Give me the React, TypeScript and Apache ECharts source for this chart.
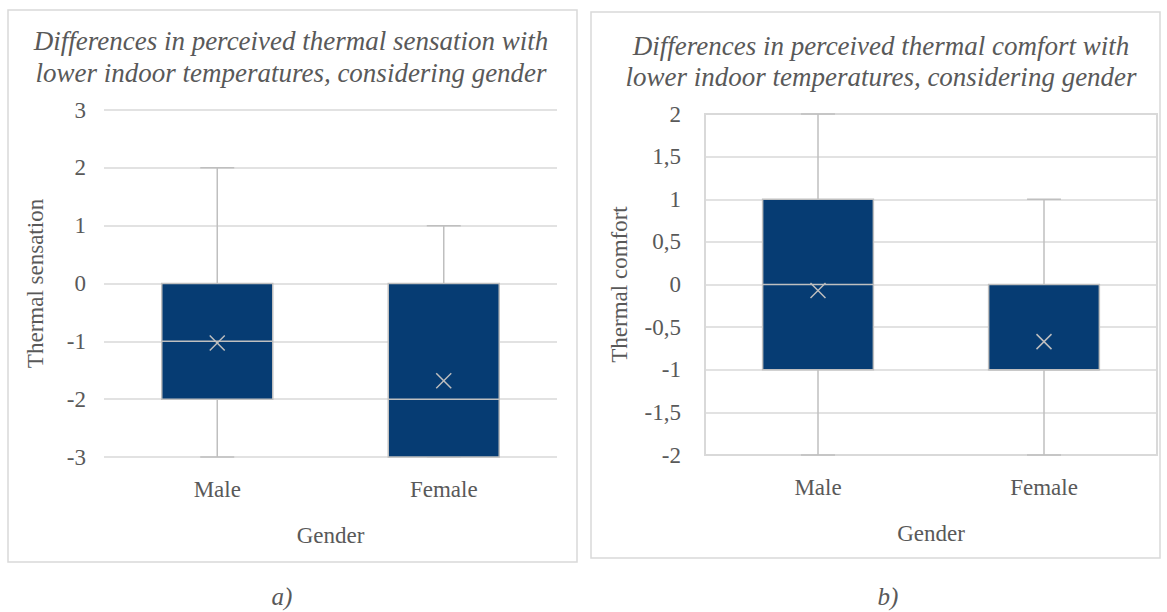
import React, { useEffect, useRef } from "react";
import * as echarts from "echarts";

// Box-plot statistics per gender
const categories = ["Male", "Female"];

// Thermal sensation (scale -3 … 3)
const sensationMin = [-3, -3];
const sensationQ1 = [-2, -3];
const sensationMedian = [-1, -2];
const sensationQ3 = [0, 0];
const sensationMax = [2, 1];
const sensationMean = [-1.03, -1.68];

// Thermal comfort (scale -2 … 2)
const comfortMin = [-2, -2];
const comfortQ1 = [-1, -1];
const comfortMedian = [0, -1];
const comfortQ3 = [1, 0];
const comfortMax = [2, 1];
const comfortMean = [-0.07, -0.67];

const FONT = '"Liberation Serif", "Times New Roman", serif';
const TEXT = "#595959";
const GRID_LINE = "#D9D9D9";
const WHISKER = "#BFBFBF";
const BOX_FILL = "#063C73";

function rows(
  min: number[],
  q1: number[],
  med: number[],
  q3: number[],
  max: number[],
  mean: number[]
) {
  return categories.map((_, i) => [i, min[i], q1[i], med[i], q3[i], max[i], mean[i]]);
}

function renderBox(params: any, api: any) {
  const idx = api.value(0);
  const vMin = api.value(1);
  const vQ1 = api.value(2);
  const vMed = api.value(3);
  const vQ3 = api.value(4);
  const vMax = api.value(5);
  const vMean = api.value(6);
  const band = api.size([1, 0])[0];
  const half = band * 0.245;
  const cap = band * 0.075;
  const pMin = api.coord([idx, vMin]);
  const pQ1 = api.coord([idx, vQ1]);
  const pMed = api.coord([idx, vMed]);
  const pQ3 = api.coord([idx, vQ3]);
  const pMax = api.coord([idx, vMax]);
  const pMean = api.coord([idx, vMean]);
  const cx = pQ1[0];
  const line = { stroke: WHISKER, lineWidth: 1.5 };
  const m = 7.5;
  return {
    type: "group",
    children: [
      { type: "line", shape: { x1: cx, y1: pMax[1], x2: cx, y2: pQ3[1] }, style: line },
      { type: "line", shape: { x1: cx, y1: pQ1[1], x2: cx, y2: pMin[1] }, style: line },
      { type: "line", shape: { x1: cx - cap, y1: pMax[1], x2: cx + cap, y2: pMax[1] }, style: line },
      { type: "line", shape: { x1: cx - cap, y1: pMin[1], x2: cx + cap, y2: pMin[1] }, style: line },
      {
        type: "rect",
        shape: { x: cx - half, y: pQ3[1], width: half * 2, height: pQ1[1] - pQ3[1] },
        style: { fill: BOX_FILL, stroke: WHISKER, lineWidth: 1.5 },
      },
      { type: "line", shape: { x1: cx - half, y1: pMed[1], x2: cx + half, y2: pMed[1] }, style: line },
      { type: "line", shape: { x1: pMean[0] - m, y1: pMean[1] - m, x2: pMean[0] + m, y2: pMean[1] + m }, style: line },
      { type: "line", shape: { x1: pMean[0] - m, y1: pMean[1] + m, x2: pMean[0] + m, y2: pMean[1] - m }, style: line },
    ],
  };
}

const axisText = { color: TEXT, fontFamily: FONT, fontSize: 23 };

export default function App() {
  const ref = useRef<HTMLDivElement>(null);

  useEffect(() => {
    if (!ref.current) return;
    const chart = echarts.init(ref.current, null, { renderer: "svg" });

    const titleStyle = {
      fill: TEXT,
      font: `italic 27px ${FONT}`,
      textAlign: "center",
      textVerticalAlign: "middle",
    };
    const captionStyle = {
      fill: TEXT,
      font: `italic 25px ${FONT}`,
      textAlign: "center",
      textVerticalAlign: "middle",
    };

    chart.setOption({
      animation: false,
      backgroundColor: "#ffffff",
      grid: [
        { left: 104, top: 110, width: 453, height: 347, show: false },
        {
          left: 705,
          top: 114,
          width: 452,
          height: 341,
          show: true,
          borderColor: GRID_LINE,
          borderWidth: 2,
        },
      ],
      xAxis: [
        {
          type: "category",
          gridIndex: 0,
          data: categories,
          axisLine: { show: false },
          axisTick: { show: false },
          axisLabel: { ...axisText, margin: 21 },
          name: "Gender",
          nameLocation: "middle",
          nameGap: 67,
          nameTextStyle: axisText,
        },
        {
          type: "category",
          gridIndex: 1,
          data: categories,
          axisLine: { show: false },
          axisTick: { show: false },
          axisLabel: { ...axisText, margin: 21 },
          name: "Gender",
          nameLocation: "middle",
          nameGap: 67,
          nameTextStyle: axisText,
        },
      ],
      yAxis: [
        {
          type: "value",
          gridIndex: 0,
          min: -3,
          max: 3,
          interval: 1,
          axisLine: { show: false },
          axisTick: { show: false },
          axisLabel: { ...axisText, margin: 18 },
          splitLine: { lineStyle: { color: GRID_LINE, width: 1.5 } },
          name: "Thermal sensation",
          nameLocation: "middle",
          nameGap: 57,
          nameTextStyle: axisText,
        },
        {
          type: "value",
          gridIndex: 1,
          min: -2,
          max: 2,
          interval: 0.5,
          axisLine: { show: false },
          axisTick: { show: false },
          axisLabel: {
            ...axisText,
            margin: 24,
            formatter: (v: number) => String(v).replace(".", ","),
          },
          splitLine: { lineStyle: { color: GRID_LINE, width: 1.5 } },
          name: "Thermal comfort",
          nameLocation: "middle",
          nameGap: 74,
          nameTextStyle: axisText,
        },
      ],
      series: [
        {
          type: "custom",
          xAxisIndex: 0,
          yAxisIndex: 0,
          renderItem: renderBox,
          encode: { x: 0, y: [1, 2, 3, 4, 5, 6] },
          data: rows(sensationMin, sensationQ1, sensationMedian, sensationQ3, sensationMax, sensationMean),
        },
        {
          type: "custom",
          xAxisIndex: 1,
          yAxisIndex: 1,
          renderItem: renderBox,
          encode: { x: 0, y: [1, 2, 3, 4, 5, 6] },
          data: rows(comfortMin, comfortQ1, comfortMedian, comfortQ3, comfortMax, comfortMean),
        },
      ],
      graphic: [
        {
          type: "rect",
          shape: { x: 8, y: 10, width: 569, height: 552 },
          style: { fill: "none", stroke: GRID_LINE, lineWidth: 1.5 },
          z: -1,
        },
        {
          type: "rect",
          shape: { x: 591, y: 12, width: 569, height: 546 },
          style: { fill: "none", stroke: GRID_LINE, lineWidth: 1.5 },
          z: -1,
        },
        { type: "text", x: 291, y: 41, style: { ...titleStyle, text: "Differences in perceived thermal sensation with" } },
        { type: "text", x: 291, y: 73, style: { ...titleStyle, text: "lower indoor temperatures, considering gender" } },
        { type: "text", x: 881, y: 46, style: { ...titleStyle, text: "Differences in perceived thermal comfort with" } },
        { type: "text", x: 881, y: 77, style: { ...titleStyle, text: "lower indoor temperatures, considering gender" } },
        { type: "text", x: 282, y: 596, style: { ...captionStyle, text: "a)" } },
        { type: "text", x: 888, y: 596, style: { ...captionStyle, text: "b)" } },
      ],
    });

    return () => chart.dispose();
  }, []);

  return (
    <div
      ref={ref}
      style={{ position: "absolute", left: 0, top: 0, width: 1167, height: 612 }}
    />
  );
}
